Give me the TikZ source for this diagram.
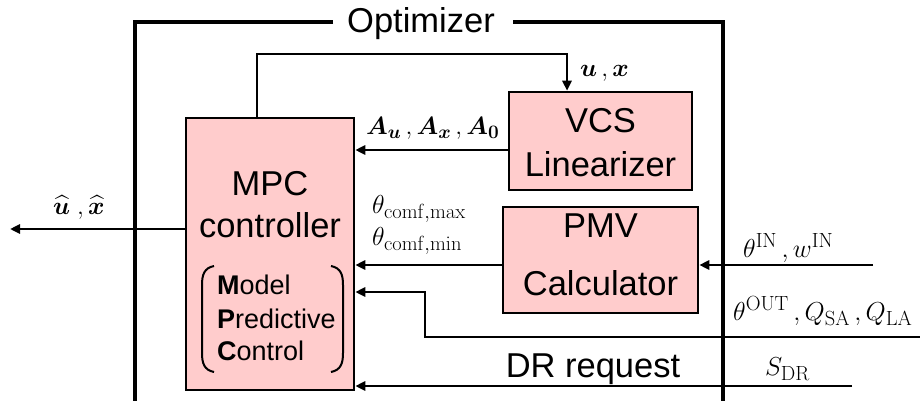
\RequirePackage{fix-cm}
\documentclass[tikz,border=0pt]{standalone}
\usepackage{amsmath,bm}
\usepackage[no-math]{fontspec}
\setmainfont{Liberation Sans}
\usetikzlibrary{arrows.meta}
\DeclareMathSizes{26}{26}{20.5}{16}
\DeclareMathSizes{25}{25}{19}{15}
\definecolor{boxpink}{RGB}{255,204,204}
\tikzset{
  blk/.style={draw=black, line width=2.5pt, fill=boxpink, inner sep=0pt},
  big/.style={font=\fontsize{34.5}{40}\selectfont, inner sep=0pt, anchor=base},
  small/.style={font=\fontsize{27}{30}\selectfont, inner sep=0pt, anchor=base west},
  mth/.style={font=\fontsize{26}{30}\selectfont, inner sep=0pt, anchor=base west},
  bmth/.style={font=\fontsize{25}{30}\selectfont, inner sep=0pt, anchor=base west},
  conn/.style={line width=2.5pt},
  arr/.style={line width=2.5pt, -{Triangle[length=10pt,width=9pt]}},
  frame/.style={line width=3.5pt}
}
\begin{document}
\begin{tikzpicture}[x=1pt,y=-1pt]
\useasboundingbox (0,0) rectangle (920,401);
% optimizer frame
\node[big] (opt) at (421,33) {Optimizer};
\coordinate (fl) at (135,22);
\coordinate (fr) at (723,22);
\coordinate (flb) at (135,403);
\coordinate (frb) at (723,403);
\draw[frame] (333,22) -- (fl) -- (flb);
\draw[frame] (513,22) -- (fr) -- (frb);
% blocks
\node[blk, minimum width=168pt, minimum height=272pt] (mpc) at (270,254) {};
\node[blk, minimum width=183pt, minimum height=98pt] (vcs) at (600.5,141) {};
\node[blk, minimum width=195pt, minimum height=106pt] (pmv) at (600.5,260) {};
% block texts
\node[big] (t1) at (270,195) {MPC};
\node[big] (t2) at (270,237) {controller};
\node[big] (t3) at (600.5,132) {VCS};
\node[big] (t4) at (600.5,176) {Linearizer};
\node[big] (t5) at (600.5,237) {PMV};
\node[big] (t6) at (600.5,295) {Calculator};
\node[small] (m1) at (217,294) {\textbf{M}odel};
\node[small] (m2) at (217,328) {\textbf{P}redictive};
\node[small] (m3) at (217,360) {\textbf{C}ontrol};
\draw[line width=2pt] (214,266) .. controls (204,268) and (202,275) .. (202,285) -- (202,353) .. controls (202,363) and (204,370) .. (214,372);
\draw[line width=2pt] (331,266) .. controls (341,268) and (343,275) .. (343,285) -- (343,353) .. controls (343,363) and (341,370) .. (331,372);
% connectors
\coordinate (c1) at (257,54);
\coordinate (c2) at (567,54);
\draw[arr] (mpc.north -| c1) -- (c1) -- (c2) -- (vcs.north -| c2);
\coordinate (ya) at (0,150);
\draw[arr] (vcs.west |- ya) -- (mpc.east |- ya);
\coordinate (yp) at (0,265);
\draw[arr] (pmv.west |- yp) -- (mpc.east |- yp);
\coordinate (yo) at (10,229);
\draw[arr] (mpc.west |- yo) -- (yo);
\coordinate (in) at (873,265);
\draw[arr] (in) -- (pmv.east |- in);
\coordinate (o1) at (920,337);
\coordinate (o2) at (425,337);
\coordinate (o3) at (425,292);
\draw[arr] (o1) -- (o2) -- (o3) -- (mpc.east |- o3);
\coordinate (dr) at (852,386);
\draw[arr] (dr) -- (mpc.east |- dr);
% labels
\node[bmth] (lux) at (580,77) {$\bm{u}\,,\bm{x}$};
\node[bmth] (la) at (366,135) {$\bm{A_u}\,,\bm{A_x}\,,\bm{A_0}$};
\node[mth] (lmax) at (372,213) {$\theta_{\mathrm{comf,max}}$};
\node[mth] (lmin) at (372,245) {$\theta_{\mathrm{comf,min}}$};
\node[mth] (lin) at (743,257) {$\theta^{\mathrm{IN}}\,,w^{\mathrm{IN}}$};
\node[mth] (lout) at (733,320) {$\theta^{\mathrm{OUT}}\,,Q_{\mathrm{SA}}\,,Q_{\mathrm{LA}}$};
\node[mth] (lsdr) at (765,375) {$S_{\mathrm{DR}}$};
\node[bmth] (lhat) at (53,214) {$\widehat{\bm{u}}\;,\widehat{\bm{x}}$};
\node[big] (ldr) at (593,377) {DR request};
\end{tikzpicture}
\end{document}
